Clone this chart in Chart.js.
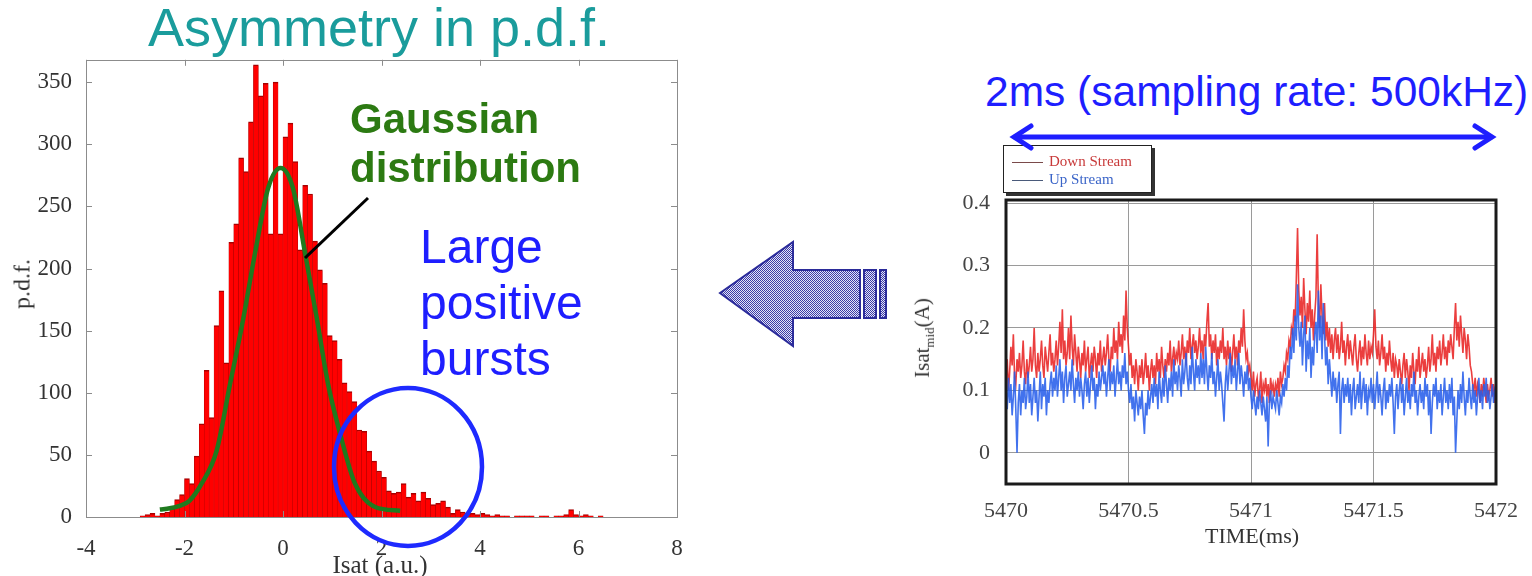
<!DOCTYPE html>
<html>
<head>
<meta charset="utf-8">
<script src="https://cdn.jsdelivr.net/npm/chart.js@4.4.1/dist/chart.umd.min.js"></script>
<style>
  body { margin: 0; background: #fff; }
  #wrap { position: relative; width: 1532px; height: 576px; overflow: hidden; background: #fff; }
  canvas { position: absolute; }
  .txt { position: absolute; white-space: nowrap; font-family: "Liberation Sans", Arial, sans-serif; }
  .serif { position: absolute; white-space: nowrap; font-family: "Liberation Serif", "Times New Roman", serif; color: #333; }
  #legend { position: absolute; left: 1003px; top: 145px; width: 147px; height: 46px; background: #fff;
            border: 1px solid #222; box-shadow: 3px 3px 0 #333; font-family: "Liberation Serif", serif; font-size: 15px; }
  #legend div { position: absolute; left: 8px; height: 16px; line-height: 16px; }
  #legend span.ln { display: inline-block; width: 31px; height: 0; border-top: 1px solid; vertical-align: middle; margin-right: 6px; }
  svg { position: absolute; left: 0; top: 0; }
</style>
</head>
<body>
<div id="wrap">
  <canvas id="pdfChart" width="700" height="536" style="left:0;top:40px"></canvas>
  <canvas id="timeChart" width="632" height="436" style="left:900px;top:140px"></canvas>

  <div class="txt" style="left:148px;top:0px;font-size:54px;line-height:54px;color:#1a9c9c">Asymmetry in p.d.f.</div>
  <div class="txt" style="left:350px;top:94px;font-size:42px;line-height:49px;color:#2c7a12;font-weight:bold">Gaussian<br>distribution</div>
  <div class="txt" style="left:420px;top:219px;font-size:48px;line-height:56px;color:#1e1eff">Large<br>positive<br>bursts</div>
  <div class="txt" style="left:985px;top:71px;font-size:42.5px;line-height:42px;color:#1e1eff">2ms (sampling rate: 500kHz)</div>

  <div class="serif" style="left:22px;top:284px;font-size:24px;transform:translate(-50%,-50%) rotate(-90deg)">p.d.f.</div>
  <div class="serif" style="left:380px;top:565px;font-size:25px;transform:translate(-50%,-50%)">Isat (a.u.)</div>
  <div class="serif" style="left:1252px;top:536px;font-size:22px;transform:translate(-50%,-50%)">TIME(ms)</div>
  <div class="serif" style="left:924px;top:338px;font-size:21px;transform:translate(-50%,-50%) rotate(-90deg)">Isat<sub style="font-size:13px">mid</sub>(A)</div>

  <div id="legend">
    <div style="top:7px;color:#c83a3a"><span class="ln" style="border-color:#7a4a4a"></span>Down Stream</div>
    <div style="top:25px;color:#3a64c8"><span class="ln" style="border-color:#4a5a7a"></span>Up Stream</div>
  </div>

  <svg width="1532" height="576">
    <defs>
      <pattern id="dots" width="2" height="2" patternUnits="userSpaceOnUse">
        <rect width="2" height="2" fill="#e4e4f6"/>
        <rect width="1" height="1" fill="#3a3aa8"/>
        <rect x="1" y="1" width="1" height="1" fill="#3a3aa8"/>
      </pattern>
    </defs>
    <line x1="305" y1="258" x2="368" y2="198" stroke="#000" stroke-width="3"/>
    <ellipse cx="408" cy="467" rx="74" ry="79" fill="none" stroke="#1e2aff" stroke-width="4.5"/>
    <g stroke="#1e1eff" stroke-width="5" fill="none" stroke-linecap="round">
      <line x1="1015" y1="137" x2="1491" y2="137"/>
      <polyline points="1031,126 1014,137 1031,148"/>
      <polyline points="1475,126 1492,137 1475,148"/>
    </g>
    <g stroke="#2b2b9a" stroke-width="2" fill="url(#dots)">
      <polygon points="720,293 793,242 793,270 860,270 860,318 793,318 793,346"/>
      <rect x="864" y="270" width="12" height="48"/>
      <rect x="880" y="270" width="6" height="48"/>
    </g>
  </svg>
</div>

<script>
// histogram of Isat, bins of 0.1 starting at -2.9
const binStart = -2.9;
const binWidth = 0.1;
const counts = [
  1, 2, 3, 1, 3, 4, 7, 14, 18, 31,
  27, 49, 75, 118, 80, 154, 182, 124, 221, 236,
  289, 278, 318, 364, 339, 349, 228, 350, 228, 306,
  317, 286, 215, 267, 260, 222, 199, 188, 146, 142,
  127, 108, 101, 93, 70, 69, 53, 45, 37, 32,
  21, 19, 20, 27, 16, 19, 13, 20, 15, 10,
  11, 13, 8, 3, 6, 4, 3, 3, 2, 3,
  2, 1, 2, 1, 1, 0, 1, 1, 1, 1,
  0, 1, 1, 0, 1, 1, 2, 6, 2, 1,
  2, 1, 0, 1
];

// gaussian fit curve
const gaussX = [-2.5, -2.3, -2.1, -1.9, -1.65, -1.35, -1.08, -0.81, -0.57, -0.3, -0.05, 0.2, 0.45, 0.69, 0.92, 1.16, 1.46, 1.87, 2.38];
const gaussY = [6, 7, 9, 13, 27, 53, 106, 159, 212, 265, 281, 265, 212, 159, 106, 67, 27, 8, 5];

const pdfXTicks = [-4, -2, 0, 2, 4, 6, 8];
const pdfYTicks = [0, 50, 100, 150, 200, 250, 300, 350];

// time traces, one sample every 0.005 ms from 5470 ms (one row = 0.1 ms)
const timeStart = 5470;
const timeStep = 0.005;
const downStream = [
  0.12, 0.15, 0.10, 0.13, 0.17, 0.14, 0.19, 0.12, 0.11, 0.15, 0.13, 0.16, 0.12, 0.14, 0.18, 0.13, 0.11, 0.15, 0.12, 0.14,
  0.17, 0.13, 0.15, 0.20, 0.14, 0.12, 0.16, 0.13, 0.15, 0.18, 0.14, 0.12, 0.17, 0.15, 0.13, 0.16, 0.19, 0.14, 0.16, 0.13,
  0.15, 0.18, 0.14, 0.17, 0.21, 0.16, 0.23, 0.15, 0.18, 0.14, 0.16, 0.20, 0.15, 0.22, 0.17, 0.14, 0.19, 0.16, 0.13, 0.17,
  0.15, 0.12, 0.16, 0.14, 0.18, 0.13, 0.15, 0.17, 0.12, 0.14, 0.16, 0.13, 0.17, 0.15, 0.12, 0.16, 0.14, 0.18, 0.13, 0.15,
  0.17, 0.14, 0.16, 0.19, 0.15, 0.13, 0.17, 0.15, 0.20, 0.16, 0.18, 0.15, 0.21, 0.17, 0.19, 0.16, 0.22, 0.18, 0.26, 0.20,
  0.17, 0.14, 0.16, 0.12, 0.14, 0.11, 0.15, 0.13, 0.10, 0.14, 0.12, 0.15, 0.11, 0.13, 0.16, 0.12, 0.14, 0.10, 0.13, 0.15,
  0.12, 0.14, 0.11, 0.16, 0.13, 0.15, 0.12, 0.17, 0.14, 0.12, 0.15, 0.13, 0.16, 0.14, 0.18, 0.13, 0.15, 0.17, 0.14, 0.16,
  0.15, 0.18, 0.14, 0.16, 0.19, 0.15, 0.17, 0.14, 0.18, 0.16, 0.20, 0.15, 0.17, 0.19, 0.16, 0.18, 0.15, 0.17, 0.20, 0.16,
  0.18, 0.15, 0.19, 0.17, 0.21, 0.24, 0.17, 0.19, 0.15, 0.18, 0.16, 0.19, 0.14, 0.17, 0.15, 0.18, 0.16, 0.20, 0.15, 0.17,
  0.14, 0.18, 0.15, 0.17, 0.13, 0.16, 0.19, 0.15, 0.17, 0.14, 0.18, 0.16, 0.20, 0.17, 0.23, 0.18, 0.15, 0.16, 0.13, 0.14,
  0.12, 0.10, 0.13, 0.09, 0.11, 0.12, 0.09, 0.10, 0.13, 0.08, 0.11, 0.10, 0.12, 0.09, 0.11, 0.08, 0.12, 0.10, 0.11, 0.09,
  0.11, 0.10, 0.12, 0.09, 0.13, 0.11, 0.12, 0.14, 0.13, 0.16, 0.15, 0.18, 0.17, 0.20, 0.19, 0.23, 0.21, 0.28, 0.36, 0.26,
  0.22, 0.25, 0.20, 0.28, 0.23, 0.19, 0.24, 0.21, 0.26, 0.20, 0.23, 0.18, 0.22, 0.25, 0.35, 0.24, 0.20, 0.27, 0.22, 0.19,
  0.24, 0.18, 0.21, 0.17, 0.20, 0.16, 0.19, 0.15, 0.18, 0.20, 0.16, 0.19, 0.15, 0.17, 0.21, 0.16, 0.18, 0.14, 0.17, 0.19,
  0.15, 0.18, 0.16, 0.14, 0.17, 0.19, 0.15, 0.13, 0.16, 0.18, 0.14, 0.17, 0.15, 0.19, 0.16, 0.14, 0.18, 0.15, 0.17, 0.16,
  0.19, 0.23, 0.17, 0.15, 0.18, 0.14, 0.16, 0.19, 0.15, 0.17, 0.13, 0.16, 0.14, 0.18, 0.15, 0.13, 0.16, 0.12, 0.15, 0.14,
  0.12, 0.15, 0.13, 0.11, 0.14, 0.16, 0.12, 0.15, 0.13, 0.10, 0.14, 0.12, 0.16, 0.13, 0.11, 0.15, 0.13, 0.17, 0.12, 0.14,
  0.16, 0.13, 0.15, 0.12, 0.14, 0.17, 0.13, 0.15, 0.19, 0.14, 0.16, 0.13, 0.17, 0.15, 0.18, 0.14, 0.16, 0.19, 0.15, 0.17,
  0.14, 0.18, 0.16, 0.19, 0.17, 0.15, 0.20, 0.24, 0.18, 0.21, 0.17, 0.22, 0.19, 0.16, 0.20, 0.18, 0.15, 0.19, 0.17, 0.14,
  0.13, 0.11, 0.10, 0.12, 0.09, 0.11, 0.10, 0.08, 0.11, 0.09, 0.12, 0.10, 0.08, 0.11, 0.09, 0.10, 0.12, 0.09, 0.11, 0.08,
  0.10
];
const upStream = [
  0.10, 0.07, 0.12, 0.08, 0.11, 0.06, 0.09, 0.13, 0.07, 0.00, 0.08, 0.11, 0.06, 0.10, 0.08, 0.12, 0.07, 0.09, 0.13, 0.08,
  0.11, 0.06, 0.09, 0.12, 0.08, 0.10, 0.05, 0.09, 0.13, 0.07, 0.11, 0.09, 0.12, 0.06, 0.10, 0.08, 0.11, 0.13, 0.09, 0.12,
  0.10, 0.14, 0.09, 0.12, 0.15, 0.10, 0.13, 0.08, 0.12, 0.14, 0.09, 0.11, 0.13, 0.10, 0.15, 0.11, 0.08, 0.12, 0.10, 0.13,
  0.09, 0.12, 0.10, 0.07, 0.11, 0.13, 0.09, 0.12, 0.08, 0.11, 0.14, 0.10, 0.12, 0.07, 0.11, 0.09, 0.13, 0.10, 0.12, 0.14,
  0.11, 0.13, 0.09, 0.12, 0.15, 0.10, 0.13, 0.11, 0.14, 0.09, 0.12, 0.15, 0.11, 0.13, 0.10, 0.14, 0.12, 0.16, 0.11, 0.13,
  0.10, 0.08, 0.11, 0.07, 0.09, 0.05, 0.10, 0.08, 0.06, 0.09, 0.07, 0.10, 0.06, 0.03, 0.08, 0.06, 0.10, 0.07, 0.09, 0.11,
  0.08, 0.12, 0.09, 0.11, 0.07, 0.13, 0.10, 0.08, 0.12, 0.09, 0.14, 0.11, 0.08, 0.12, 0.10, 0.13, 0.09, 0.15, 0.11, 0.13,
  0.10, 0.14, 0.12, 0.09, 0.15, 0.11, 0.13, 0.16, 0.12, 0.10, 0.14, 0.11, 0.17, 0.13, 0.10, 0.15, 0.12, 0.14, 0.11, 0.16,
  0.12, 0.15, 0.11, 0.17, 0.13, 0.10, 0.14, 0.12, 0.16, 0.11, 0.13, 0.09, 0.12, 0.15, 0.10, 0.13, 0.11, 0.08, 0.05, 0.11,
  0.14, 0.10, 0.13, 0.16, 0.11, 0.14, 0.12, 0.15, 0.10, 0.13, 0.16, 0.11, 0.14, 0.12, 0.09, 0.13, 0.11, 0.14, 0.10, 0.12,
  0.09, 0.07, 0.10, 0.08, 0.06, 0.09, 0.07, 0.10, 0.08, 0.06, 0.09, 0.07, 0.05, 0.09, 0.01, 0.08, 0.10, 0.07, 0.09, 0.08,
  0.07, 0.10, 0.08, 0.06, 0.09, 0.08, 0.11, 0.09, 0.12, 0.10, 0.14, 0.12, 0.17, 0.15, 0.20, 0.16, 0.22, 0.18, 0.27, 0.20,
  0.17, 0.21, 0.14, 0.19, 0.22, 0.13, 0.18, 0.15, 0.20, 0.12, 0.17, 0.14, 0.19, 0.21, 0.16, 0.26, 0.18, 0.22, 0.15, 0.24,
  0.19, 0.14, 0.17, 0.11, 0.15, 0.12, 0.09, 0.13, 0.10, 0.12, 0.08, 0.11, 0.13, 0.03, 0.10, 0.12, 0.08, 0.11, 0.09, 0.12,
  0.08, 0.11, 0.06, 0.10, 0.12, 0.07, 0.09, 0.11, 0.08, 0.13, 0.07, 0.10, 0.12, 0.08, 0.11, 0.06, 0.10, 0.09, 0.12, 0.08,
  0.11, 0.07, 0.10, 0.13, 0.08, 0.11, 0.09, 0.06, 0.10, 0.12, 0.07, 0.10, 0.08, 0.11, 0.09, 0.12, 0.08, 0.03, 0.09, 0.11,
  0.07, 0.10, 0.12, 0.08, 0.11, 0.06, 0.09, 0.12, 0.08, 0.10, 0.07, 0.11, 0.09, 0.13, 0.08, 0.10, 0.06, 0.09, 0.11, 0.08,
  0.10, 0.07, 0.12, 0.09, 0.11, 0.06, 0.10, 0.03, 0.08, 0.11, 0.09, 0.12, 0.07, 0.10, 0.08, 0.11, 0.06, 0.09, 0.12, 0.08,
  0.10, 0.07, 0.11, 0.08, 0.12, 0.06, 0.09, 0.00, 0.05, 0.10, 0.07, 0.11, 0.08, 0.13, 0.09, 0.06, 0.10, 0.08, 0.12, 0.09,
  0.07, 0.11, 0.08, 0.10, 0.06, 0.09, 0.12, 0.08, 0.10, 0.07, 0.11, 0.09, 0.12, 0.08, 0.10, 0.07, 0.09, 0.11, 0.08, 0.10,
  0.09
];

const timeXTicks = [5470, 5470.5, 5471, 5471.5, 5472];
const timeYTicks = [0, 0.1, 0.2, 0.3, 0.4];

Chart.defaults.font.family = '"Liberation Serif", "Times New Roman", serif';
Chart.defaults.color = '#333';

// ---- left: histogram + gaussian ----
const histPoints = counts.map((c, i) => ({ x: binStart + (i + 0.5) * binWidth, y: c }));
const gaussPoints = gaussX.map((x, i) => ({ x: x, y: gaussY[i] }));

const boxTicks = {
  id: 'boxTicks',
  afterDraw(chart) {
    const { ctx, chartArea: a, scales } = chart;
    ctx.save();
    ctx.strokeStyle = '#8c8c8c';
    ctx.lineWidth = 1;
    ctx.strokeRect(Math.round(a.left) + 0.5, Math.round(a.top) + 0.5, Math.round(a.width), Math.round(a.height));
    ctx.beginPath();
    pdfXTicks.forEach(v => {
      const px = Math.round(scales.x.getPixelForValue(v)) + 0.5;
      ctx.moveTo(px, a.bottom); ctx.lineTo(px, a.bottom - 6);
      ctx.moveTo(px, a.top); ctx.lineTo(px, a.top + 6);
    });
    pdfYTicks.forEach(v => {
      const py = Math.round(scales.y.getPixelForValue(v)) + 0.5;
      ctx.moveTo(a.left, py); ctx.lineTo(a.left + 6, py);
      ctx.moveTo(a.right, py); ctx.lineTo(a.right - 6, py);
    });
    ctx.stroke();
    ctx.restore();
  }
};

new Chart(document.getElementById('pdfChart'), {
  type: 'bar',
  data: {
    datasets: [
      {
        type: 'line',
        data: gaussPoints,
        borderColor: '#1f7a1f',
        borderWidth: 4.5,
        pointRadius: 0,
        cubicInterpolationMode: 'monotone',
        order: 1
      },
      {
        data: histPoints,
        backgroundColor: '#ff0000',
        borderColor: '#a80000',
        borderWidth: { top: 1.5, left: 0.5, right: 0.5, bottom: 0 },
        borderSkipped: false,
        barPercentage: 1,
        categoryPercentage: 1,
        order: 2
      }
    ]
  },
  options: {
    responsive: false,
    animation: false,
    layout: { padding: { top: 13, right: 23, left: 0, bottom: 0 } },
    plugins: { legend: { display: false }, tooltip: { enabled: false } },
    scales: {
      x: {
        type: 'linear', min: -4, max: 8, offset: false,
        grid: { display: false, offset: false },
        border: { display: false },
        afterBuildTicks: s => { s.ticks = pdfXTicks.map(v => ({ value: v })); },
        afterFit: s => { s.height = 59; },
        ticks: { padding: 10, font: { size: 23 }, color: '#333', maxRotation: 0 }
      },
      y: {
        min: 0, max: 368,
        grid: { display: false },
        border: { display: false },
        afterBuildTicks: s => { s.ticks = pdfYTicks.map(v => ({ value: v })); },
        afterFit: s => { s.width = 86; },
        ticks: { padding: 6, font: { size: 23 }, color: '#333' }
      }
    }
  },
  plugins: [boxTicks]
});

// ---- right: Isat time traces ----
const timeAxis = downStream.map((_, i) => timeStart + i * timeStep);

const thickBorder = {
  id: 'thickBorder',
  afterDatasetsDraw(chart) {
    const { ctx, chartArea: a } = chart;
    ctx.save();
    ctx.strokeStyle = '#1a1a1a';
    ctx.lineWidth = 3;
    ctx.strokeRect(a.left, a.top, a.width, a.height);
    ctx.restore();
  }
};

new Chart(document.getElementById('timeChart'), {
  type: 'line',
  data: {
    datasets: [
      {
        label: 'Up Stream',
        data: upStream.map((v, i) => ({ x: timeAxis[i], y: v })),
        borderColor: 'rgba(40, 95, 235, 0.88)',
        borderWidth: 1.6,
        pointRadius: 0,
        order: 1
      },
      {
        label: 'Down Stream',
        data: downStream.map((v, i) => ({ x: timeAxis[i], y: v })),
        borderColor: 'rgba(232, 35, 35, 0.88)',
        borderWidth: 1.6,
        pointRadius: 0,
        order: 2
      }
    ]
  },
  options: {
    responsive: false,
    animation: false,
    layout: { padding: { top: 60, right: 30, left: 0, bottom: 0 } },
    plugins: { legend: { display: false }, tooltip: { enabled: false } },
    scales: {
      x: {
        type: 'linear', min: 5470, max: 5472,
        grid: { color: '#9a9a9a', lineWidth: 1, drawTicks: false },
        border: { display: false },
        afterBuildTicks: s => { s.ticks = timeXTicks.map(v => ({ value: v })); },
        afterFit: s => { s.height = 92; },
        ticks: { padding: 14, font: { size: 22 }, color: '#444', maxRotation: 0, callback: v => String(v) }
      },
      y: {
        min: -0.05, max: 0.405,
        grid: { color: '#9a9a9a', lineWidth: 1, drawTicks: false },
        border: { display: false },
        afterBuildTicks: s => { s.ticks = timeYTicks.map(v => ({ value: v })); },
        afterFit: s => { s.width = 106; },
        ticks: { padding: 16, font: { size: 22 }, color: '#444', callback: v => String(v) }
      }
    }
  },
  plugins: [thickBorder]
});
</script>
</body>
</html>
